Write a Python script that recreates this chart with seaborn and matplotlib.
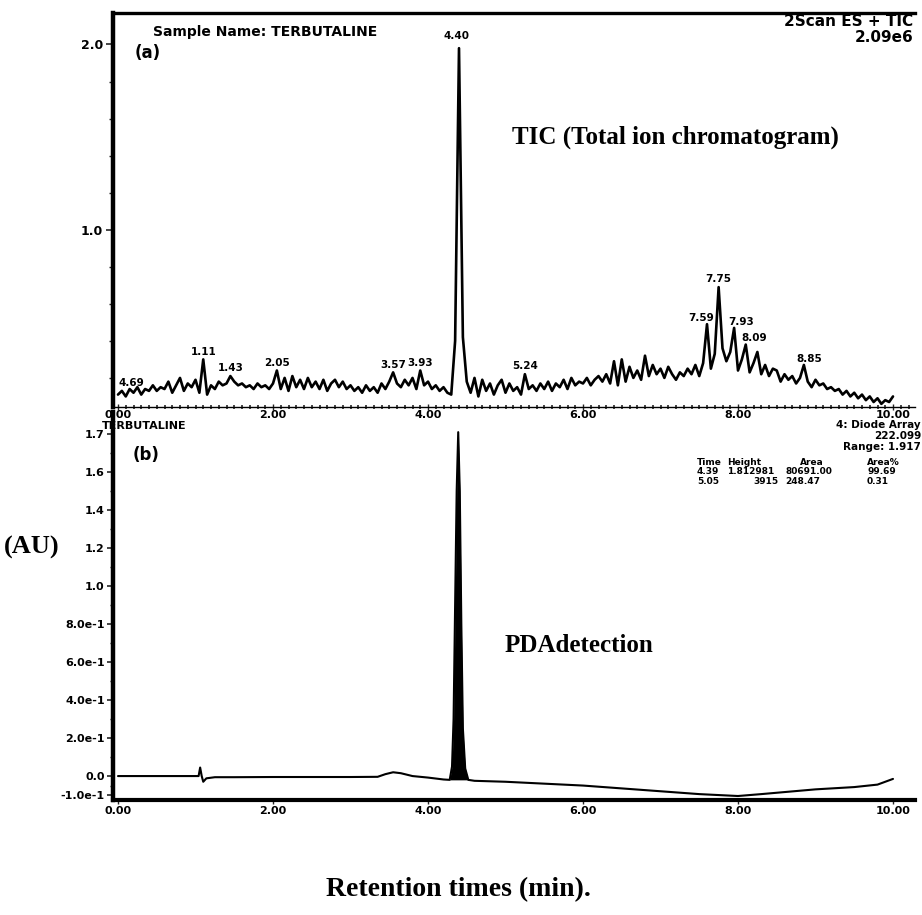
import numpy as np
import pandas as pd
import matplotlib
matplotlib.use("Agg")
import matplotlib.pyplot as plt
import seaborn as sns
from matplotlib.ticker import MultipleLocator, FixedLocator

sns.set_theme(style="white")
plt.rcParams['font.family'] = ['DejaVu Sans']

# ---------------- data ----------------
# TIC trace sampled every 0.05 min from 0.00 to 10.00 (relative intensity, x 1e6)
tic_time = [round(i * 0.05, 2) for i in range(201)]
tic_values = [
    0.11, 0.13, 0.10, 0.14, 0.12, 0.15, 0.11, 0.14, 0.13, 0.16,
    0.13, 0.15, 0.14, 0.18, 0.12, 0.16, 0.20, 0.13, 0.17, 0.15,
    0.19, 0.12, 0.30, 0.11, 0.16, 0.14, 0.18, 0.16, 0.17, 0.21,
    0.18, 0.16, 0.17, 0.15, 0.16, 0.14, 0.17, 0.15, 0.16, 0.14,
    0.17, 0.24, 0.14, 0.20, 0.13, 0.21, 0.15, 0.19, 0.14, 0.20,
    0.15, 0.18, 0.14, 0.19, 0.13, 0.17, 0.19, 0.15, 0.18, 0.14,
    0.16, 0.13, 0.15, 0.12, 0.16, 0.13, 0.15, 0.12, 0.17, 0.14,
    0.18, 0.23, 0.17, 0.15, 0.19, 0.16, 0.20, 0.14, 0.24, 0.16,
    0.18, 0.14, 0.16, 0.13, 0.15, 0.12, 0.11, 0.40, 1.98, 0.42,
    0.18, 0.12, 0.20, 0.10, 0.19, 0.13, 0.17, 0.11, 0.16, 0.19,
    0.12, 0.17, 0.13, 0.15, 0.11, 0.22, 0.14, 0.16, 0.13, 0.17,
    0.14, 0.18, 0.13, 0.17, 0.15, 0.19, 0.14, 0.20, 0.16, 0.18,
    0.17, 0.20, 0.16, 0.19, 0.21, 0.18, 0.22, 0.17, 0.29, 0.16,
    0.30, 0.18, 0.26, 0.20, 0.24, 0.19, 0.32, 0.21, 0.27, 0.22,
    0.25, 0.20, 0.26, 0.22, 0.19, 0.23, 0.21, 0.25, 0.22, 0.27,
    0.21, 0.28, 0.49, 0.25, 0.33, 0.69, 0.36, 0.29, 0.34, 0.47,
    0.24, 0.30, 0.38, 0.23, 0.28, 0.34, 0.22, 0.27, 0.21, 0.25,
    0.24, 0.18, 0.22, 0.19, 0.21, 0.17, 0.20, 0.27, 0.18, 0.15,
    0.19, 0.16, 0.17, 0.14, 0.15, 0.13, 0.14, 0.11, 0.13, 0.10,
    0.12, 0.09, 0.11, 0.08, 0.10, 0.07, 0.09, 0.06, 0.08, 0.07,
    0.10,
]
tic_peak_times = [0.15, 1.10, 1.45, 2.05, 3.55, 3.90, 4.40, 5.25, 7.60, 7.75, 7.95, 8.10, 8.85]
tic_peak_labels = ["4.69", "1.11", "1.43", "2.05", "3.57", "3.93", "4.40", "5.24",
                   "7.59", "7.75", "7.93", "8.09", "8.85"]

# PDA (diode array) trace
pda_time = [0.00, 1.00, 1.04, 1.06, 1.08, 1.10, 1.14, 1.25, 1.50, 2.00, 3.00, 3.35, 3.45,
            3.55, 3.65, 3.80, 4.00, 4.20, 4.28, 4.31, 4.33, 4.35, 4.37, 4.39, 4.41,
            4.43, 4.45, 4.48, 4.52, 4.60, 5.00, 6.00, 7.00, 7.50, 8.00, 8.30, 9.00,
            9.50, 9.80, 10.00]
pda_values = [0.000, 0.000, 0.000, 0.045, 0.000, -0.030, -0.012, -0.006, -0.006, -0.005,
              -0.005, -0.004, 0.010, 0.020, 0.015, 0.000, -0.008, -0.018, -0.020, 0.05,
              0.30, 0.90, 1.50, 1.81, 1.50, 0.80, 0.25, 0.04, -0.020, -0.025, -0.030,
              -0.050, -0.080, -0.095, -0.105, -0.095, -0.070, -0.058, -0.045, -0.015]

x_ticks = [0, 2, 4, 6, 8, 10]
x_tick_labels = ["0.00", "2.00", "4.00", "6.00", "8.00", "10.00"]
tic_y_ticks = [1.0, 2.0]
tic_y_tick_labels = ["1.0", "2.0"]
pda_y_ticks = [-0.1, 0.0, 0.2, 0.4, 0.6, 0.8, 1.0, 1.2, 1.4, 1.6, 1.8]
pda_y_tick_labels = ["-1.0e-1", "0.0", "2.0e-1", "4.0e-1", "6.0e-1", "8.0e-1",
                     "1.0", "1.2", "1.4", "1.6", "1.7"]

table_header = ["Time", "Height", "Area", "Area%"]
table_row1 = ["4.39", "1.812981", "80691.00", "99.69"]
table_row2 = ["5.05", "3915", "248.47", "0.31"]

tic_df = pd.DataFrame({"time": tic_time, "signal": tic_values})
pda_df = pd.DataFrame({"time": pda_time, "signal": pda_values})

# ---------------- figure ----------------
W, H = 922, 915
fig = plt.figure(figsize=(W / 100, H / 100), dpi=100)

def fx(px):
    return px / W

def fy(py):
    return 1 - py / H

ax_left, ax_right = 113, 915
ax1 = fig.add_axes([fx(ax_left), fy(407), fx(ax_right - ax_left), (407 - 13) / H])
ax2 = fig.add_axes([fx(ax_left), fy(800), fx(ax_right - ax_left), (800 - 412) / H])
ax2.patch.set_alpha(0)

xmin = (ax_left - 118) / 77.5
xmax = (ax_right - 118) / 77.5
bold = dict(fontweight="bold", color="black")
serif = ["Liberation Serif", "DejaVu Serif"]

# ---- panel (a) ----
sns.lineplot(data=tic_df, x="time", y="signal", ax=ax1, color="black", lw=1.9, estimator=None)
ax1.set_xlim(xmin, xmax)
ax1.set_ylim(0.043, 2.17)
ax1.spines["right"].set_visible(False)
ax1.spines["left"].set_linewidth(3.2)
ax1.spines["top"].set_linewidth(2.4)
ax1.spines["bottom"].set_linewidth(1.0)
for s in ax1.spines.values():
    s.set_color("black")
ax1.set_xticks(x_ticks)
ax1.set_xticklabels(x_tick_labels, fontsize=8, **bold)
ax1.xaxis.set_minor_locator(MultipleLocator(0.1))
ax1.tick_params(axis="x", which="major", direction="inout", length=5, width=1, pad=0, bottom=True)
ax1.tick_params(axis="x", which="minor", direction="inout", length=3, width=1.2, bottom=True)
ax1.set_yticks(tic_y_ticks)
ax1.set_yticklabels(tic_y_tick_labels, fontsize=9, **bold)
ax1.yaxis.set_minor_locator(FixedLocator([0.2, 0.4, 0.6, 0.8, 1.2, 1.4, 1.6, 1.8]))
ax1.tick_params(axis="y", which="major", direction="out", length=5, width=1.2, pad=2, left=True)
ax1.tick_params(axis="y", which="minor", direction="out", length=3, width=1, left=True)
ax1.set_xlabel("")
ax1.set_ylabel("")

label_offsets = {"4.69": (1, 1), "7.59": (-4, 1), "7.93": (5, 1), "8.09": (6, 1), "8.85": (4, 1),
                 "4.40": (-2, 5)}
for t, lab in zip(tic_peak_times, tic_peak_labels):
    v = tic_values[tic_time.index(t)]
    dx, dy = label_offsets.get(lab, (0, 2))
    ax1.annotate(lab, xy=(t, v), xytext=(dx, dy), textcoords="offset points",
                 ha="center", va="bottom", fontsize=7.5, **bold)

fig.text(fx(153), fy(32), "Sample Name: TERBUTALINE", fontsize=10, va="center", ha="left", **bold)
fig.text(fx(135), fy(53), "(a)", fontsize=12, va="center", ha="left", **bold)
fig.text(fx(913), fy(22), "2Scan ES + TIC", fontsize=11, va="center", ha="right", **bold)
fig.text(fx(913), fy(38), "2.09e6", fontsize=11, va="center", ha="right", **bold)
fig.text(fx(512), fy(137), "TIC (Total ion chromatogram)", fontsize=18, va="center", ha="left",
         family=serif, **bold)

# ---- panel (b) ----
sns.lineplot(data=pda_df, x="time", y="signal", ax=ax2, color="black", lw=1.5, estimator=None)
peak_mask = (pda_df["time"] >= 4.28) & (pda_df["time"] <= 4.52)
ax2.fill_between(pda_df["time"][peak_mask], pda_df["signal"][peak_mask], -0.02,
                 color="black", lw=0)
ax2.set_xlim(xmin, xmax)
ax2.set_ylim(-0.126, 1.916)
ax2.spines["top"].set_visible(False)
ax2.spines["right"].set_visible(False)
ax2.spines["left"].set_linewidth(3.2)
ax2.spines["bottom"].set_linewidth(3.0)
for s in ax2.spines.values():
    s.set_color("black")
ax2.set_xticks(x_ticks)
ax2.set_xticklabels(x_tick_labels, fontsize=8, **bold)
ax2.tick_params(axis="x", which="major", direction="out", length=3, width=1, pad=1, bottom=True)
ax2.set_yticks(pda_y_ticks)
ax2.set_yticklabels(pda_y_tick_labels, fontsize=8, **bold)
ax2.yaxis.set_minor_locator(FixedLocator([-0.05, 0.1, 0.3, 0.5, 0.7, 0.9, 1.1, 1.3, 1.5, 1.7]))
ax2.tick_params(axis="y", which="major", direction="out", length=4, width=1.2, pad=2, left=True)
ax2.tick_params(axis="y", which="minor", direction="out", length=2.5, width=1, left=True)
ax2.set_xlabel("")
ax2.set_ylabel("")

fig.text(fx(102), fy(426), "TERBUTALINE", fontsize=8, va="center", ha="left", **bold)
fig.text(fx(133), fy(455), "(b)", fontsize=12, va="center", ha="left", **bold)
fig.text(fx(921), fy(425), "4: Diode Array", fontsize=7.5, va="center", ha="right", **bold)
fig.text(fx(921), fy(436), "222.099", fontsize=7.5, va="center", ha="right", **bold)
fig.text(fx(921), fy(447), "Range: 1.917", fontsize=7.5, va="center", ha="right", **bold)

col_x = [697, 727, 785, 867]
for row, y in zip([table_header, table_row1, table_row2], [463, 472, 481]):
    for j, cell in enumerate(row):
        x, ha = col_x[j], "left"
        if row is table_header and j == 2:
            x = 800
        if row is table_row2 and j == 1:
            x, ha = 778, "right"
        fig.text(fx(x), fy(y), cell, fontsize=6.5, va="center", ha=ha, **bold)

fig.text(fx(4), fy(547), "(AU)", fontsize=19, va="center", ha="left", family=serif, **bold)
fig.text(fx(505), fy(645), "PDAdetection", fontsize=18, va="center", ha="left", family=serif, **bold)
fig.text(fx(458), fy(890), "Retention times (min).", fontsize=20, va="center", ha="center",
         family=serif, **bold)

fig.savefig("out.png", dpi=100, facecolor="white")
